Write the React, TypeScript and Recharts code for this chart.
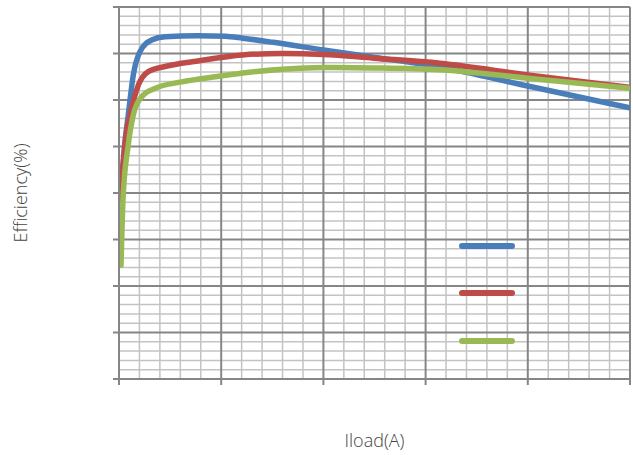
import { LineChart, Line, XAxis, YAxis, CartesianGrid, Legend } from 'recharts';

// x = load current (A), y = efficiency (%)
const xMajor = [0, 1, 2, 3, 4, 5];
const yMajor = [20, 30, 40, 50, 60, 70, 80, 90, 100];
const xMinor = [0.2, 0.4, 0.6, 0.8, 1.2, 1.4, 1.6, 1.8, 2.2, 2.4, 2.6, 2.8, 3.2, 3.4, 3.6, 3.8, 4.2, 4.4, 4.6, 4.8];
const yMinor = [22, 24, 26, 28, 32, 34, 36, 38, 42, 44, 46, 48, 52, 54, 56, 58, 62, 64, 66, 68, 72, 74, 76, 78, 82, 84, 86, 88, 92, 94, 96, 98];

const blueX = [0.02, 0.05, 0.091, 0.14, 0.205, 0.32, 0.45, 0.77, 1.04, 1.21, 1.51, 2.0, 2.49, 3.14, 4.0, 5.0];
const blueY = [59, 69, 76.8, 85.4, 90.4, 92.9, 93.6, 93.8, 93.7, 93.3, 92.4, 90.75, 89.2, 87.1, 83.0, 78.3];

const redX = [0.01, 0.026, 0.075, 0.108, 0.189, 0.287, 0.45, 0.77, 1.21, 1.6, 2.0, 2.49, 3.14, 4.0, 5.0];
const redY = [58.5, 62.8, 73.5, 76.8, 83.2, 86.1, 87.2, 88.4, 89.7, 90.0, 89.8, 89.0, 87.9, 85.4, 82.7];

const greenX = [0.02, 0.04, 0.088, 0.14, 0.222, 0.352, 0.613, 0.94, 1.21, 1.6, 2.0, 2.49, 3.14, 4.0, 5.0];
const greenY = [44.5, 59.1, 69.9, 76.8, 80.7, 82.5, 83.9, 85.0, 85.8, 86.6, 87.0, 86.9, 86.5, 84.7, 82.5];

const series = [
  { name: 'Efficiency 1', color: '#4a7ebb', xs: blueX, ys: blueY },
  { name: 'Efficiency 2', color: '#be4b48', xs: redX, ys: redY },
  { name: 'Efficiency 3', color: '#98b954', xs: greenX, ys: greenY },
];

const toPoints = (xs: number[], ys: number[]) => xs.map((x, i) => ({ x, y: ys[i] }));

const AXIS = '#868686';
const TEXT = '#444';
const noTick = () => <g />;

const LegendLines = ({ payload }: any) => (
  <div>
    {(payload || []).map((p: any) => (
      <div key={p.value} style={{ height: 47.5, display: 'flex', alignItems: 'center' }}>
        <span style={{ width: 56, height: 6, borderRadius: 3, background: p.color, display: 'inline-block' }} />
      </div>
    ))}
  </div>
);

export default function App() {
  return (
    <div style={{ position: 'absolute', left: 0, top: 0, width: 633, height: 455, background: '#fff' }}>
      <LineChart width={633} height={455} margin={{ top: 7, right: 3, left: 0, bottom: 0 }}>
        {/* minor grid on hidden axes */}
        <XAxis xAxisId="minor" type="number" dataKey="x" domain={[0, 5]} ticks={xMinor} interval={0} allowDataOverflow hide />
        <YAxis yAxisId="minor" type="number" domain={[20, 100]} ticks={yMinor} interval={0} allowDataOverflow hide />
        <CartesianGrid xAxisId="minor" yAxisId="minor" stroke="#c3c3c3" strokeWidth={1.5} />
        <CartesianGrid stroke={AXIS} strokeWidth={2} />
        <XAxis
          type="number"
          dataKey="x"
          domain={[0, 5]}
          ticks={xMajor}
          interval={0}
          allowDataOverflow
          height={76}
          tick={noTick}
          tickSize={6}
          axisLine={{ stroke: AXIS, strokeWidth: 2 }}
          tickLine={{ stroke: AXIS, strokeWidth: 2 }}
          label={{ value: 'Iload(A)', position: 'insideBottom', offset: 8, fill: TEXT, fontSize: 18, fontWeight: 300, fontFamily: 'Open Sans' }}
        />
        <YAxis
          type="number"
          domain={[20, 100]}
          ticks={yMajor}
          interval={0}
          allowDataOverflow
          width={119}
          tick={noTick}
          tickSize={6}
          axisLine={{ stroke: AXIS, strokeWidth: 2 }}
          tickLine={{ stroke: AXIS, strokeWidth: 2 }}
          label={{
            value: 'Efficiency(%)', angle: -90, position: 'insideLeft', offset: 21,
            fill: TEXT, fontSize: 18, fontWeight: 300, fontFamily: 'Open Sans', style: { textAnchor: 'middle' },
          }}
        />
        <Legend
          layout="horizontal"
          align="center"
          verticalAlign="middle"
          content={<LegendLines />}
          wrapperStyle={{ left: 459, top: 222, width: 60, height: 145 }}
        />
        {series.map(s => (
          <Line
            key={s.name}
            data={toPoints(s.xs, s.ys)}
            dataKey="y"
            name={s.name}
            type="monotone"
            stroke={s.color}
            strokeWidth={5.5}
            strokeLinecap="round"
            dot={false}
            activeDot={false}
            isAnimationActive={false}
          />
        ))}
      </LineChart>
    </div>
  );
}
